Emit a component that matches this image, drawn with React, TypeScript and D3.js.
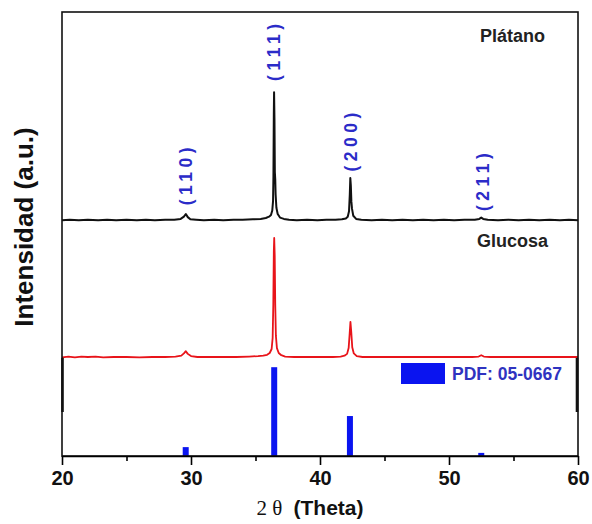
import React, { useEffect, useRef } from 'react';
import * as d3 from 'd3';

// 2θ (deg) and intensity (a.u., relative to each pattern's baseline)
const platano: [number, number][] = [
  [20, 2], [20.6, 3], [21.3, 2], [22, 3], [22.8, 2], [23.5, 3], [24.2, 2], [25, 3], [25.8, 2], [26.5, 3],
  [27.2, 2], [28, 3], [28.7, 3], [29.2, 5], [29.45, 10], [29.6, 16], [29.75, 9], [29.95, 4], [30.4, 3],
  [31, 2], [31.8, 3], [32.5, 2], [33.3, 3], [34, 3], [34.8, 4], [35.4, 5], [35.8, 7], [36.05, 10],
  [36.2, 14], [36.3, 24], [36.36, 45], [36.39, 100], [36.42, 240], [36.44, 290], [36.47, 230],
  [36.5, 110], [36.53, 95], [36.56, 60], [36.62, 30], [36.72, 16], [36.9, 8], [37.2, 5], [37.6, 3],
  [38.2, 2], [39, 3], [39.8, 2], [40.5, 3], [41.2, 3], [41.7, 4], [42.0, 6], [42.15, 10], [42.25, 22],
  [42.31, 60], [42.35, 97], [42.39, 80], [42.43, 45], [42.48, 28], [42.58, 12], [42.8, 5], [43.2, 3],
  [44, 2], [44.8, 3], [45.6, 2], [46.4, 3], [47.2, 2], [48, 3], [48.8, 2], [49.6, 3], [50.4, 2],
  [51.2, 3], [52, 3], [52.35, 5], [52.5, 8], [52.65, 5], [53, 3], [53.8, 2], [54.6, 3], [55.4, 2],
  [56.2, 3], [57, 2], [57.8, 3], [58.6, 2], [59.3, 3], [60, 2]
];

const glucosa: [number, number][] = [
  [20, 1], [20.5, 3], [21, 1], [21.5, 3], [22, 2], [22.6, 3], [23.2, 1], [24, 2], [25, 2], [26, 1],
  [27, 2], [28, 2], [28.8, 3], [29.25, 5], [29.45, 10], [29.6, 15], [29.75, 9], [30, 4], [30.5, 2],
  [31.5, 2], [32.5, 2], [33.5, 2], [34.5, 3], [35.2, 4], [35.6, 5], [35.9, 7], [36.1, 11], [36.25, 20],
  [36.33, 45], [36.38, 120], [36.42, 240], [36.45, 270], [36.49, 230], [36.53, 120], [36.58, 50],
  [36.66, 22], [36.8, 11], [37.0, 6], [37.3, 3], [38, 2], [39, 2], [40, 2], [41, 2], [41.6, 3],
  [41.9, 5], [42.1, 9], [42.22, 22], [42.3, 55], [42.36, 81], [42.42, 60], [42.5, 24], [42.62, 10],
  [42.85, 4], [43.3, 2], [44.5, 2], [46, 2], [47.5, 2], [49, 2], [50.5, 2], [51.8, 2], [52.3, 3],
  [52.5, 6], [52.7, 3], [53.2, 2], [54.5, 2], [56, 2], [57.5, 2], [59, 2], [60, 2]
];

// reference pattern PDF 05-0667
const pdfPos = [29.59, 36.45, 42.32, 52.5];
const pdfInt = [20, 200, 90, 7];

const millerLabels = ['(110)', '(111)', '(200)', '(211)'];
const millerPos = [29.6, 36.44, 42.37, 52.6];
const millerCenter = [635, 914, 712, 622]; // label center, a.u.

const platanoOffset = 529;
const glucosaOffset = 221;

const majorTicks = [20, 30, 40, 50, 60];
const minorTicks = [25, 35, 45, 55];

const W = 592;
const H = 524;
const m = { t: 12, r: 14, b: 68, l: 62 };

const sans = 'Liberation Sans, Arial, Helvetica, sans-serif';

export default function App(): JSX.Element {
  const axisRef = useRef(null);

  const x = d3.scaleLinear().domain([20, 60]).range([m.l, W - m.r]);
  const y = d3.scaleLinear().domain([0, 1000]).range([H - m.b, m.t]);

  const line = (off: number) =>
    d3
      .line<[number, number]>()
      .x((d) => x(d[0]))
      .y((d) => y(d[1] + off));

  useEffect(() => {
    const el = d3.select(axisRef.current);
    el.selectAll('*').remove();

    const major = el
      .append('g')
      .call(d3.axisBottom(x).tickValues(majorTicks).tickSize(9).tickSizeOuter(0).tickFormat(d3.format('d')));
    major.select('.domain').attr('stroke-width', 1.6);
    major.selectAll('.tick line').attr('stroke-width', 1.6);
    major
      .selectAll('.tick text')
      .attr('y', 15)
      .attr('font-family', sans)
      .attr('font-weight', 'bold')
      .attr('font-size', 20)
      .attr('fill', '#111');

    const minor = el
      .append('g')
      .call(d3.axisBottom(x).tickValues(minorTicks).tickSize(5).tickSizeOuter(0).tickFormat(() => ''));
    minor.select('.domain').remove();
    minor.selectAll('.tick line').attr('stroke-width', 1.6);
  }, []);

  const y0 = y(0);
  const barW = 6;

  return (
    <svg width={W} height={H} style={{ position: 'absolute', left: 0, top: 0 }}>
      <rect x={0} y={0} width={W} height={H} fill="#fff" />

      {/* reference bars */}
      {pdfPos.map((p, i) => (
        <rect key={p} x={x(p) - barW / 2} y={y(pdfInt[i])} width={barW} height={y0 - y(pdfInt[i])} fill="#0a14f0" />
      ))}

      <path d={line(glucosaOffset)(glucosa) || ''} fill="none" stroke="#e8141a" strokeWidth={1.8} strokeLinejoin="round" />
      <path d={line(platanoOffset)(platano) || ''} fill="none" stroke="#111" strokeWidth={2} strokeLinejoin="round" />

      {/* frame */}
      <rect x={m.l} y={m.t} width={W - m.r - m.l} height={H - m.b - m.t} fill="none" stroke="#111" strokeWidth={1.6} />
      <line x1={m.l + 0.5} x2={m.l + 0.5} y1={y(glucosaOffset)} y2={412} stroke="#111" strokeWidth={2.6} />
      <line x1={W - m.r - 1} x2={W - m.r - 1} y1={y(glucosaOffset)} y2={412} stroke="#111" strokeWidth={2.6} />

      <g ref={axisRef} transform={`translate(0,${y0})`} />

      {/* miller indices */}
      {millerLabels.map((t, i) => (
        <text
          key={t}
          transform={`translate(${x(millerPos[i]) + 6},${y(millerCenter[i])}) rotate(-90)`}
          textAnchor="middle"
          fontFamily={sans}
          fontWeight="bold"
          fontSize={17.5}
          letterSpacing={4.5}
          fill="#2b2bc8"
        >
          {t}
        </text>
      ))}

      <text x={480} y={42} fontFamily={sans} fontWeight="bold" fontSize={18} fill="#222">
        Plátano
      </text>
      <text x={548} y={247} textAnchor="end" fontFamily={sans} fontWeight="bold" fontSize={18} fill="#222">
        Glucosa
      </text>

      {/* legend */}
      <rect x={401} y={363} width={44} height={21} fill="#0a14f0" />
      <text x={452} y={380} fontFamily={sans} fontWeight="bold" fontSize={17.5} fill="#2f33c0">
        PDF: 05-0667
      </text>

      {/* axis titles */}
      <text
        transform={`translate(33,227) rotate(-90)`}
        textAnchor="middle"
        fontFamily={sans}
        fontWeight="bold"
        fontSize={26}
        fill="#111"
      >
        Intensidad (a.u.)
      </text>
      <text x={310} y={515} textAnchor="middle" fontSize={21} fill="#111">
        <tspan fontFamily="Liberation Serif, Times New Roman, serif">2 θ </tspan>
        <tspan fontFamily={sans} fontWeight="bold" dx={6}>
          (Theta)
        </tspan>
      </text>
    </svg>
  );
}
